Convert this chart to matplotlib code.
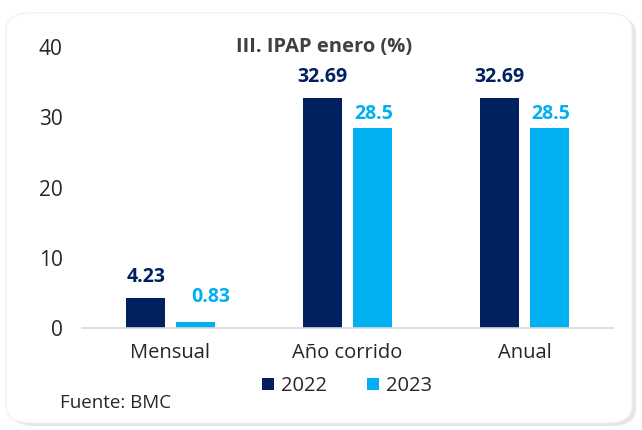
import matplotlib.pyplot as plt
import numpy as np
from matplotlib.patches import FancyBboxPatch

categories = ['Mensual', 'Año corrido', 'Anual']
series_names = ['2022', '2023']
values_2022 = [4.23, 32.69, 32.69]
values_2023 = [0.83, 28.5, 28.5]
y_ticks = [0, 10, 20, 30, 40]

NAVY = '#002060'
SKY = '#00B0F0'
TXT = '#262626'

plt.rcParams['font.family'] = ['Open Sans', 'DejaVu Sans']

fig = plt.figure(figsize=(6.42, 4.30), dpi=100)
fig.patch.set_facecolor('white')

# card background with a soft shadow
shadow = FancyBboxPatch((10 / 642, 4 / 430), 626 / 642, 410 / 430,
                        boxstyle='round,pad=0,rounding_size=0.04',
                        transform=fig.transFigure, facecolor='#e6e6e6',
                        edgecolor='none', zorder=-2)
card = FancyBboxPatch((6 / 642, 7 / 430), 626 / 642, 410 / 430,
                      boxstyle='round,pad=0,rounding_size=0.04',
                      transform=fig.transFigure, facecolor='white',
                      edgecolor='#f0f0f0', linewidth=0.8, zorder=-1)
fig.patches.extend([shadow, card])

ax = fig.add_axes([82 / 642, 102 / 430, 531 / 642, 281 / 430])
ax.set_facecolor('none')
ax.set_zorder(2)

x = np.arange(len(categories))
w = 0.22
off = 0.14
b1 = ax.bar(x - off, values_2022, w, color=NAVY, label=series_names[0], zorder=2)
b2 = ax.bar(x + off, values_2023, w, color=SKY, label=series_names[1], zorder=2)

# value labels, baseline placed a few points above the bar tops
for bar, v in zip(b1, values_2022):
    ax.annotate(f'{v:g}', (bar.get_x() + bar.get_width() / 2, v),
                xytext=(0, 11.5), textcoords='offset points', ha='center',
                va='baseline', color=NAVY, fontsize=14, fontweight='bold')
for i, (bar, v) in enumerate(zip(b2, values_2023)):
    dx, dy = (11, 14.4) if i == 0 else (0.7, 6.5)
    ax.annotate(f'{v:g}', (bar.get_x() + bar.get_width() / 2, v),
                xytext=(dx, dy), textcoords='offset points', ha='center',
                va='baseline', color=SKY, fontsize=14, fontweight='bold')

ax.set_xlim(-0.5, 2.5)
ax.set_ylim(0, 40)
ax.set_yticks(y_ticks)
ax.set_xticks(x)
ax.set_xticklabels(categories, fontsize=14.5, color=TXT)
ax.tick_params(axis='y', length=0, pad=14, labelsize=15, labelcolor=TXT)
ax.tick_params(axis='x', length=0, pad=11)
for s in ['left', 'right', 'top']:
    ax.spines[s].set_visible(False)
ax.spines['bottom'].set_color('#d9d9d9')
ax.spines['bottom'].set_linewidth(1.2)

fig.text(324 / 642, 1 - 47 / 430, 'III. IPAP enero (%)', ha='center',
         va='center', fontsize=14.5, fontweight='bold', color='#404040')

fig.legend(handles=[b1, b2], labels=series_names, loc='center',
           bbox_to_anchor=(347 / 642, 1 - 386 / 430), ncol=2, frameon=False,
           fontsize=14.5, handlelength=0.6, handleheight=0.6,
           handletextpad=0.35, columnspacing=2.0, labelcolor=TXT)

fig.text(60 / 642, 1 - 403 / 430, 'Fuente: BMC', ha='left', va='center',
         fontsize=13.5, color=TXT)

fig.savefig('out.png', dpi=100, facecolor='white')
